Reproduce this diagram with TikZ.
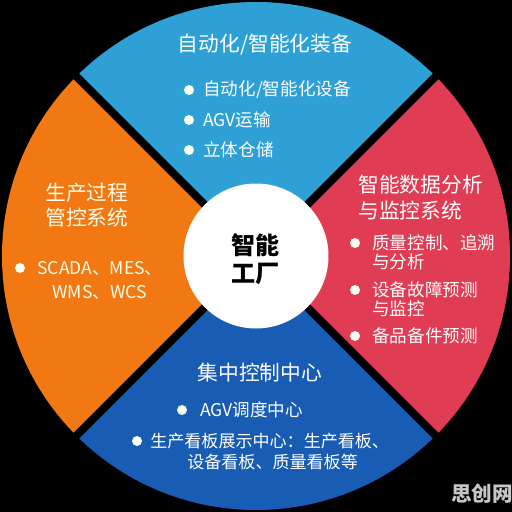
\documentclass[tikz,border=0pt]{standalone}
\usepackage{fontspec}
\setmainfont{Noto Sans CJK SC}
\definecolor{qblue}{RGB}{47,160,214}
\definecolor{qred}{RGB}{224,60,84}
\definecolor{qorange}{RGB}{242,120,20}
\definecolor{qdark}{RGB}{24,92,180}
\begin{document}
\begin{tikzpicture}[line join=round, line cap=round,
    title/.style={text=white, font=\fontsize{11.8}{14}\selectfont, inner sep=0pt},
    item/.style={text=white, font=\fontsize{10}{12}\selectfont, inner sep=0pt, anchor=west},
    dot/.style={fill=white!95!yellow, draw=none}]
	\def\R{5.08} \def\r{1.45}
	\useasboundingbox (-5.12,-5.12) rectangle (5.12,5.12);
	\fill[black] (-5.12,-5.12) rectangle (5.12,5.12);
	\fill[qblue] (0,0) -- (45:\R) arc (45:135:\R) -- cycle;
	\fill[qorange] (0,0) -- (135:\R) arc (135:225:\R) -- cycle;
	\fill[qdark] (0,0) -- (225:\R) arc (225:315:\R) -- cycle;
	\fill[qred] (0,0) -- (315:\R) arc (315:405:\R) -- cycle;
	%\draw[color=gray!50,dashed] (-5,-5) grid (5,5);
	\draw[black, line width=0.16cm, line cap=butt] (45:\R+0.1) -- (225:\R+0.1);
	\draw[black, line width=0.16cm, line cap=butt] (135:\R+0.1) -- (315:\R+0.1);
	\fill[white] (0,0) circle (\r);
	\node[font=\fontsize{13.7}{16}\selectfont\bfseries, align=center] (center) at (0,-0.06) {智能\\工厂};
	% top
	\node[title] (equip) at (0.18,4.22) {自动化/智能化装备};
	\foreach \y/\t [count=\i] in {3.32/{自动化/智能化设备}, 2.72/AGV运输, 2.12/立体仓储}{
		\fill[dot] (-1.34,\y) circle (0.1);
		\node[item] (equip\i) at (-1.06,\y) {\t};
	}
	% right
	\node[title, anchor=west] (data1) at (2.04,1.42) {智能数据分析};
	\node[title, anchor=west] (data2) at (2.04,0.90) {与监控系统};
	\foreach \y/\t [count=\i] in {0.26/质量控制、追溯, -0.12/与分析, -0.68/设备故障预测, -1.06/与监控, -1.60/备品备件预测}{
		\node[item] (data\i) at (2.32,\y) {\t};
	}
	\foreach \y in {0.26,-0.68,-1.60} \fill[dot] (1.98,\y) circle (0.1);
	% left
	\node[title, anchor=west, text=white!92!yellow] (proc1) at (-4.22,1.26) {生产过程};
	\node[title, anchor=west, text=white!92!yellow] (proc2) at (-4.22,0.76) {管控系统};
	\fill[dot] (-4.72,-0.24) circle (0.1);
	\node[item, text=white!92!yellow] (proc3) at (-4.38,-0.24) {SCADA、MES、};
	\node[item, text=white!92!yellow] (proc4) at (-4.08,-0.72) {WMS、WCS};
	% bottom
	\node[title] (ctrl) at (0.08,-2.34) {集中控制中心};
	\fill[dot] (-1.48,-3.08) circle (0.1);
	\node[item] (ctrl1) at (-1.12,-3.08) {AGV调度中心};
	\fill[dot] (-2.38,-3.70) circle (0.1);
	\node[item, font=\fontsize{9.7}{12}\selectfont] (ctrl2) at (-2.12,-3.70) {生产看板展示中心：生产看板、};
	\node[item, font=\fontsize{9.7}{12}\selectfont] (ctrl3) at (-1.38,-4.12) {设备看板、质量看板等};
	\node[text=gray!45, font=\fontsize{11.7}{14}\selectfont\bfseries, inner sep=0pt] (mark) at (4.52,-4.76) {思创网};
\end{tikzpicture}
\end{document}
